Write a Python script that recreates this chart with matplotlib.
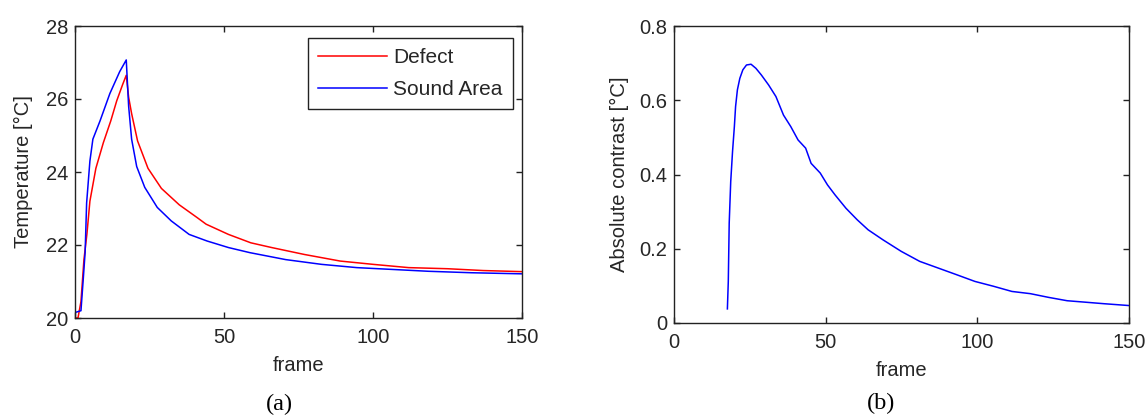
"""Thermal contrast curves: defect vs sound area, and absolute contrast."""

from matplotlib import pyplot as plt
import numpy as np

# --- data ------------------------------------------------------------------
frame_defect = [0, 1, 2, 3, 4, 5, 7, 9.5, 12, 14, 16, 17.2, 18, 19, 21, 24.5,
                29, 35, 41, 44, 51.5, 59, 66, 77, 89, 100, 112, 125, 137, 150]
temp_defect = [20.0, 20.0, 20.45, 21.6, 22.3, 23.2, 24.1, 24.8, 25.4, 25.95,
               26.4, 26.65, 26.05, 25.6, 24.85, 24.1, 23.55, 23.1, 22.75,
               22.57, 22.29, 22.06, 21.93, 21.74, 21.56, 21.47, 21.38, 21.35,
               21.3, 21.27]

frame_sound = [0, 2, 2.8, 3.4, 3.9, 5, 6, 8.4, 11.7, 15, 17.2, 18, 19, 20.7,
               23.4, 27.6, 32.3, 38.3, 44.3, 51.5, 58.7, 70.7, 82.7, 94.6,
               106.6, 118.6, 133, 150]
temp_sound = [20.15, 20.2, 21.1, 21.8, 23.15, 24.3, 24.9, 25.4, 26.15, 26.75,
              27.07, 25.8, 24.9, 24.15, 23.58, 23.03, 22.66, 22.29, 22.11,
              21.93, 21.79, 21.6, 21.47, 21.38, 21.33, 21.28, 21.24, 21.21]

frame_contrast = [17.6, 17.9, 18.2, 18.7, 19.3, 19.9, 20.3, 20.9, 21.7, 22.7,
                  23.9, 25.4, 27, 28.8, 31.2, 33.6, 36.1, 38.5, 40.9, 43.4,
                  45.2, 48.2, 50.6, 53.1, 56.7, 60.4, 64, 68.9, 74.9, 81,
                  87.1, 93.2, 99.2, 105.3, 111.4, 117.5, 123.5, 129.6, 135.7,
                  141.7, 150]
contrast = [0.038, 0.112, 0.269, 0.381, 0.462, 0.529, 0.583, 0.628, 0.659,
            0.682, 0.695, 0.697, 0.686, 0.668, 0.641, 0.61, 0.56, 0.529,
            0.493, 0.471, 0.43, 0.404, 0.372, 0.345, 0.309, 0.278, 0.251,
            0.224, 0.193, 0.166, 0.148, 0.13, 0.112, 0.099, 0.085, 0.079,
            0.069, 0.06, 0.056, 0.052, 0.047]

x_ticks = [0, 50, 100, 150]
temp_ticks = [20, 22, 24, 26, 28]
contrast_ticks = [0, 0.2, 0.4, 0.6, 0.8]
contrast_ticklabels = ["0", "0.2", "0.4", "0.6", "0.8"]

# --- figure -----------------------------------------------------------------
plt.rcParams["font.family"] = ["Liberation Sans", "DejaVu Sans"]
W, H = 1148, 417
fig = plt.figure(figsize=(W / 100, H / 100), dpi=100)

ax_a = fig.add_axes([75 / W, 1 - 318 / H, (522 - 75) / W, (318 - 26) / H])
ax_b = fig.add_axes([674 / W, 1 - 323 / H, (1129 - 674) / W, (323 - 26) / H])

text_color = "#262626"
fs = 14.5

ax_a.plot(frame_defect, temp_defect, color="#ff0000", lw=1.1, label="Defect")
ax_a.plot(frame_sound, temp_sound, color="#0000ff", lw=1.1, label="Sound Area")
ax_a.set_xlim(0, 150)
ax_a.set_ylim(20, 28)
ax_a.set_yticks(temp_ticks)
ax_a.set_ylabel("Temperature [°C]", fontsize=fs, color=text_color, labelpad=9)

leg = ax_a.legend(loc="upper right", bbox_to_anchor=(0.98, 0.959),
                  borderaxespad=0, fontsize=15, handlelength=3.3,
                  handletextpad=0.3, labelspacing=0.6, borderpad=0.5,
                  fancybox=False, framealpha=1, edgecolor="#222222")
leg.get_frame().set_linewidth(1.0)
for t in leg.get_texts():
    t.set_color(text_color)

ax_b.plot(frame_contrast, contrast, color="#0000ff", lw=1.1)
ax_b.set_xlim(0, 150)
ax_b.set_ylim(0, 0.8)
ax_b.set_yticks(contrast_ticks)
ax_b.set_yticklabels(contrast_ticklabels)
ax_b.set_ylabel("Absolute contrast [°C]", fontsize=fs, color=text_color,
                labelpad=7)

for ax in (ax_a, ax_b):
    ax.set_xticks(x_ticks)
    ax.set_xlabel("frame", fontsize=fs, color=text_color, labelpad=7)
    ax.tick_params(direction="in", length=4, width=1.0, top=True, right=True,
                   labelsize=fs, labelcolor=text_color, color="#222222")
    ax.tick_params(axis="x", pad=7)
    ax.tick_params(axis="y", pad=5)
    for s in ax.spines.values():
        s.set_linewidth(1.0)
        s.set_color("#222222")

fig.text(279 / W, 1 - 404 / H, "(a)", ha="center", va="center", fontsize=17.5,
         family="Liberation Serif", color="black")
fig.text(881 / W, 1 - 403 / H, "(b)", ha="center", va="center", fontsize=17.5,
         family="Liberation Serif", color="black")

fig.savefig("out.png", dpi=100, facecolor="white")
